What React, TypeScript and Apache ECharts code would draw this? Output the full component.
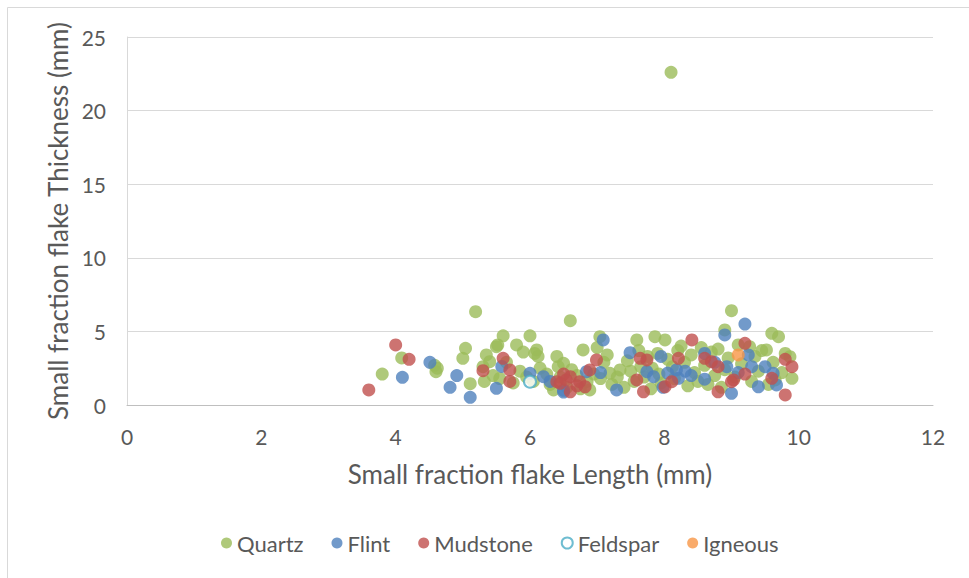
import React, { useEffect, useRef } from "react";
import * as echarts from "echarts";

const quartz: number[][] = [
  [3.8, 2.1], [4.09, 3.2], [4.6, 2.26], [4.58, 2.7], [4.62, 2.5], [5.0, 3.17], [5.04, 3.85], [5.11, 1.45],
  [5.19, 6.34], [5.3, 2.6], [5.35, 3.4], [5.32, 1.6], [5.4, 2.94], [5.45, 2.0], [5.5, 3.96], [5.52, 4.08],
  [5.6, 4.7], [5.55, 1.8], [5.65, 2.9], [5.75, 1.5], [5.8, 4.08], [5.85, 2.3], [5.9, 3.6], [5.95, 1.9],
  [6.0, 4.7], [6.07, 3.5], [6.1, 3.74], [6.12, 3.3], [6.05, 1.6], [6.15, 2.5], [6.25, 2.1], [6.3, 1.4],
  [6.35, 1.02], [6.4, 3.3], [6.42, 2.6], [6.45, 1.9], [6.5, 2.83], [6.55, 1.2], [6.6, 5.73], [6.62, 2.4],
  [6.7, 2.0], [6.75, 1.1], [6.79, 3.74], [6.85, 1.6], [6.89, 1.02], [6.95, 2.1], [7.0, 3.9], [7.04, 4.64],
  [7.05, 1.8], [7.1, 2.9], [7.15, 3.4], [7.19, 2.15], [7.22, 1.4], [7.3, 1.9], [7.34, 2.38], [7.4, 1.2],
  [7.45, 3.0], [7.5, 2.3], [7.55, 1.6], [7.59, 4.42], [7.62, 3.7], [7.65, 2.6], [7.7, 1.9], [7.75, 3.3],
  [7.8, 1.1], [7.82, 2.5], [7.86, 4.64], [7.9, 3.5], [7.92, 2.1], [7.95, 1.5], [8.01, 4.42], [8.05, 3.1],
  [8.1, 22.6], [8.12, 2.6], [8.15, 1.8], [8.2, 3.7], [8.25, 4.0], [8.3, 2.9], [8.35, 1.3], [8.4, 3.4],
  [8.45, 2.2], [8.5, 1.6], [8.55, 3.9], [8.6, 2.7], [8.65, 1.4], [8.7, 3.6], [8.75, 2.0], [8.8, 3.8],
  [8.85, 1.2], [8.9, 5.1], [8.9, 2.4], [8.95, 3.2], [9.0, 6.41], [9.05, 1.9], [9.1, 4.08], [9.15, 2.8],
  [9.27, 3.96], [9.3, 1.6], [9.35, 3.3], [9.4, 2.3], [9.45, 3.7], [9.52, 3.74], [9.55, 1.4], [9.6, 4.87],
  [9.62, 2.9], [9.7, 4.64], [9.75, 2.2], [9.8, 3.5], [9.87, 3.28], [9.9, 1.81], [9.65, 1.7],
];

const flint: number[][] = [
  [4.1, 1.88], [4.51, 2.9], [4.81, 1.2], [4.91, 2.0], [5.11, 0.52], [5.5, 1.13], [5.58, 2.62], [6.0, 2.15],
  [6.2, 1.92], [6.3, 1.6], [6.5, 1.0], [6.5, 0.88], [6.84, 2.26], [7.05, 2.2], [7.09, 4.42], [7.29, 1.02],
  [7.49, 3.55], [7.74, 2.26], [7.84, 1.92], [7.95, 3.3], [7.98, 1.2], [8.05, 2.17], [8.18, 2.38], [8.31, 2.3],
  [8.21, 1.81], [8.4, 2.0], [8.6, 3.5], [8.6, 1.75], [8.75, 2.9], [8.9, 4.76], [8.93, 2.6], [9.0, 0.79],
  [9.1, 2.2], [9.2, 5.5], [9.25, 3.4], [9.3, 2.6], [9.5, 2.6], [9.62, 2.15], [9.4, 1.24], [9.67, 1.36],
];

const mudstone: number[][] = [
  [3.6, 1.02], [4.0, 4.08], [4.2, 3.1], [5.3, 2.33], [5.6, 3.17], [5.7, 2.38], [5.7, 1.6], [6.4, 1.58],
  [6.45, 1.47], [6.54, 1.7], [6.6, 1.92], [6.6, 0.9], [6.74, 1.58], [6.82, 1.24], [6.5, 2.1], [6.7, 1.3],
  [6.89, 2.38], [6.99, 3.06], [7.64, 3.17], [7.74, 3.06], [7.59, 1.7], [7.69, 0.9], [8.01, 1.24], [8.11, 1.58],
  [8.21, 3.17], [8.41, 4.42], [8.6, 3.17], [8.7, 2.94], [8.8, 2.6], [8.8, 0.9], [9.0, 1.58], [9.03, 1.7],
  [9.2, 4.19], [9.2, 2.1], [9.6, 1.81], [9.8, 3.1], [9.9, 2.6], [9.8, 0.68],
];

const feldspar: number[][] = [[6.0, 1.58]];
const igneous: number[][] = [[9.1, 3.4]];

const xTitle = "Small fraction flake Length (mm)";
const yTitle = "Small fraction flake Thickness (mm)";

const FONT = "Lato, 'Open Sans', sans-serif";
const TEXT = "#595959";

export default function App() {
  const ref = useRef<HTMLDivElement>(null);
  useEffect(() => {
    if (!ref.current) return;
    const chart = echarts.init(ref.current, undefined, { renderer: "svg" });
    const marker = (name: string, data: number[][], color: string, extra: any = {}) => ({
      name,
      type: "scatter",
      data,
      symbol: "circle",
      symbolSize: 13,
      itemStyle: { color, ...extra },
    });
    chart.setOption({
      animation: false,
      textStyle: { fontFamily: FONT },
      graphic: [
        {
          type: "rect",
          shape: { x: 7.5, y: 7.5, width: 1000, height: 1000 },
          style: { fill: "none", stroke: "#D9D9D9", lineWidth: 1 },
          silent: true,
        },
      ],
      grid: { left: 127, right: 36, top: 37, bottom: 173 },
      legend: {
        bottom: 19,
        left: 216,
        itemWidth: 11,
        itemHeight: 11,
        itemGap: 28,
        textStyle: { color: TEXT, fontSize: 22, fontFamily: FONT },
        data: [
          { name: "Quartz", icon: "circle" },
          { name: "Flint", icon: "circle" },
          { name: "Mudstone", icon: "circle" },
          { name: "Feldspar", icon: "circle" },
          { name: "Igneous", icon: "circle" },
        ],
      },
      xAxis: {
        type: "value",
        min: 0,
        max: 12,
        interval: 2,
        name: xTitle,
        nameLocation: "middle",
        nameGap: 56,
        nameTextStyle: { color: TEXT, fontSize: 26, fontFamily: FONT },
        axisLine: { show: true, lineStyle: { color: "#BFBFBF", width: 1 } },
        axisTick: { show: false },
        splitLine: { show: false },
        axisLabel: { color: TEXT, fontSize: 21, margin: 21, fontFamily: FONT },
      },
      yAxis: {
        type: "value",
        min: 0,
        max: 25,
        interval: 5,
        name: yTitle,
        nameLocation: "middle",
        nameGap: 56,
        nameTextStyle: { color: TEXT, fontSize: 26, fontFamily: FONT },
        axisLine: { show: true, lineStyle: { color: "#D9D9D9", width: 1 } },
        axisTick: { show: false },
        splitLine: { show: true, lineStyle: { color: "#D9D9D9", width: 1 } },
        axisLabel: { color: TEXT, fontSize: 21, margin: 21, fontFamily: FONT },
      },
      series: [
        marker("Quartz", quartz, "#9BBB59"),
        marker("Flint", flint, "#4F81BD"),
        marker("Mudstone", mudstone, "#C0504D"),
        {
          ...marker("Feldspar", feldspar, "#FFFFFF", { borderColor: "#4BACC6", borderWidth: 2 }),
          symbolSize: 12,
        },
        marker("Igneous", igneous, "#F79646"),
      ],
    });
    return () => chart.dispose();
  }, []);
  return (
    <div
      ref={ref}
      style={{ position: "absolute", left: 0, top: 0, width: 969, height: 578 }}
    />
  );
}
